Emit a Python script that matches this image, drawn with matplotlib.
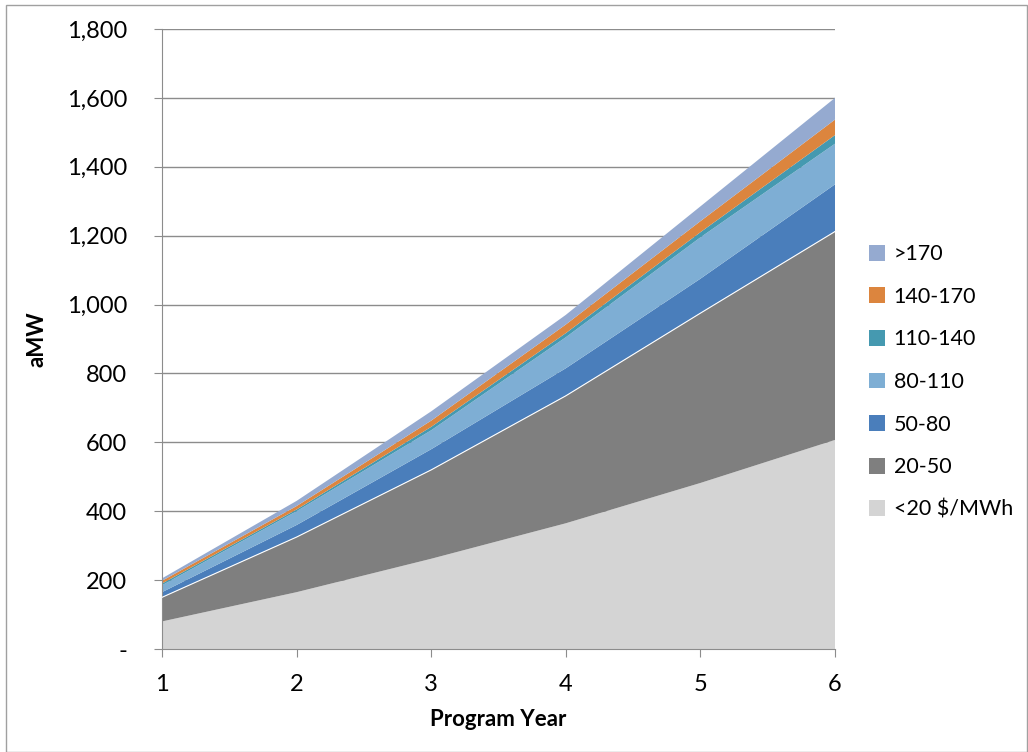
import matplotlib.pyplot as plt
from matplotlib.patches import Patch, Rectangle
from matplotlib.ticker import FuncFormatter

plt.rcParams['font.family'] = ['Lato', 'DejaVu Sans']

years = [1, 2, 3, 4, 5, 6]
labels = ['<20 $/MWh', '20-50', '50-80', '80-110', '110-140', '140-170', '>170']
colors = ['#D4D4D4', '#7F7F7F', '#4A7EBB', '#7EAED4', '#4599B0', '#DC853E', '#95AAD0']

# aMW by cost bucket (stacked)
lt20 = [80, 165, 262, 365, 482, 607]
b20_50 = [70, 160, 258, 370, 493, 605]
b50_80 = [15, 35, 60, 80, 100, 137]
b80_110 = [20, 40, 55, 90, 120, 118]
b110_140 = [5, 5, 10, 12, 15, 25]
b140_170 = [8, 10, 18, 25, 32, 45]
gt170 = [7, 15, 27, 28, 43, 63]
series = [lt20, b20_50, b50_80, b80_110, b110_140, b140_170, gt170]

fig = plt.figure(figsize=(10.28, 7.52), dpi=100)
ax = fig.add_axes([162 / 1028, 1 - 649 / 752, (835 - 162) / 1028, 620 / 752])

polys = ax.stackplot(years, *series, colors=colors, linewidth=0)
# thin white edge on top of the 20-50 band
top2 = [a + b for a, b in zip(lt20, b20_50)]
ax.plot(years, top2, color='white', lw=0.8, zorder=3)

ax.set_xlim(1, 6)
ax.set_ylim(0, 1800)
ax.set_yticks(range(0, 1801, 200))
ax.yaxis.set_major_formatter(FuncFormatter(lambda v, p: '-' if v == 0 else f'{int(v):,}'))
ax.set_xticks(years)
ax.grid(axis='y', color='#8C8C8C', lw=1)
ax.set_axisbelow(True)
for s in ['top', 'right']:
    ax.spines[s].set_visible(False)
for s in ['left', 'bottom']:
    ax.spines[s].set_color('#8C8C8C')
ax.tick_params(axis='both', colors='#8C8C8C', labelcolor='black', labelsize=17, length=6)
ax.tick_params(axis='y', pad=19)
ax.tick_params(axis='x', pad=12)

ax.set_xlabel('Program Year', fontsize=16, fontweight='bold', labelpad=10)
ax.set_ylabel('aMW', fontsize=16, fontweight='bold', labelpad=14)

handles = [Patch(facecolor=c, label=l) for c, l in zip(colors, labels)][::-1]
fig.legend(handles=handles, loc='center left', bbox_to_anchor=(869 / 1028, 1 - 382 / 752),
           frameon=False, fontsize=15.5, handlelength=0.75, handleheight=0.75,
           handletextpad=0.4, labelspacing=1.05, borderpad=0, borderaxespad=0)

fig.add_artist(Rectangle((6 / 1028, 0), 1 - 6 / 1028 - 0.001, 1 - 5 / 752,
                         transform=fig.transFigure, fill=False, edgecolor='#A0A0A0', lw=1))

fig.savefig('out.png', dpi=100)
